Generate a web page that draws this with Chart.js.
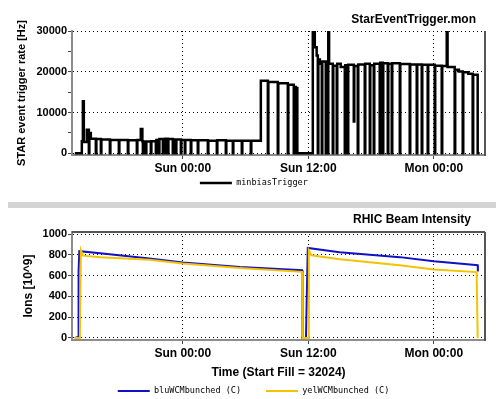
<!DOCTYPE html>
<html>
<head>
<meta charset="utf-8">
<script src="https://cdn.jsdelivr.net/npm/chart.js@4/dist/chart.umd.min.js"></script>
<style>
  html,body{margin:0;padding:0;background:#fff;width:496px;height:399px;overflow:hidden}
  #topChart,#botChart{position:absolute;left:0}
  #topChart{top:0}
  #botChart{top:209px}
  #sep{position:absolute;left:8px;top:202px;width:488px;height:6px;background:#d4d4d4}
</style>
</head>
<body>
<canvas id="topChart" width="496" height="200"></canvas>
<div id="sep"></div>
<canvas id="botChart" width="496" height="200"></canvas>
<script>
/* ---------- helpers ---------- */
const $ = q => document.querySelector(q);

/* ---------- axes (hours from Sun 00:00) ---------- */
const xTickHours  = [0, 12, 24];
const xTickLabels = ['Sun 00:00', 'Sun 12:00', 'Mon 00:00'];
const topYTicks   = [0, 10000, 20000, 30000];
const topYMinor   = [5000, 15000, 25000];
const botYTicks   = [0, 200, 400, 600, 800, 1000];
const botYMinor   = [100, 300, 500, 700, 900];

/* ---------- StarEventTrigger.mon : minbiasTrigger (rate changes) ---------- */
const trigHours = [
  -10.33, -9.66, -9.56, -9.47, -9.18, -8.99, -8.94, -8.80, -8.32, -8.27,
  -7.84, -7.79, -6.98, -6.93, -6.12, -6.07, -5.26, -5.21, -4.40, -4.35,
  -4.02, -3.87, -3.82, -3.77, -3.54, -3.49, -3.06, -3.01, -2.58, -2.53,
  -2.29, -2.24, -1.91, -1.86, -1.72, -1.67, -1.43, -1.38, -0.96, -0.91,
  -0.67, -0.62, -0.19, -0.14, 0.19, 0.24, 0.76, 0.81, 1.43, 1.48,
  2.39, 2.44, 3.25, 3.30, 4.11, 4.16, 4.78, 4.83, 5.64, 5.69,
  6.50, 6.55, 7.46, 8.13, 8.18, 9.08, 9.13, 10.04, 10.09, 10.61,
  10.66, 10.80, 10.85, 10.95, 12.43, 12.62, 12.80, 12.91, 12.96, 13.10,
  13.29, 13.34, 13.67, 13.72, 13.86, 13.91, 13.99, 14.34, 14.39, 14.72,
  14.77, 15.10, 15.49, 15.54, 15.77, 15.82, 16.35, 16.40, 16.73, 16.78,
  17.40, 17.45, 17.88, 17.93, 18.26, 18.31, 18.83, 18.88, 19.12, 19.17,
  19.60, 19.65, 19.98, 20.03, 20.75, 20.80, 21.70, 21.75, 22.37, 22.42,
  22.85, 22.90, 23.42, 23.47, 24.09, 24.14, 24.76, 24.81, 25.24, 25.32,
  26.00, 26.05, 26.40, 26.77, 26.82, 27.30, 27.72, 27.77, 28.20, 28.39
];
const trigRate = [
  0, 3000, 12800, 2800, 5800, 0, 5000, 3600, 0, 3500,
  0, 3400, 0, 3300, 0, 3300, 0, 3200, 0, 3300,
  6000, 3000, 0, 2900, 0, 2900, 0, 3000, 0, 3300,
  0, 3500, 0, 3500, 0, 3600, 0, 3500, 0, 3400,
  0, 3400, 0, 3300, 0, 3300, 0, 3200, 0, 3200,
  0, 3100, 0, 3200, 0, 3100, 0, 3100, 0, 3100,
  0, 3100, 17800, 0, 17500, 0, 17200, 0, 16800, 0,
  16300, 0, 16000, 0, 30000, 26000, 24000, 0, 23000, 22000,
  0, 22500, 0, 21800, 0, 30000, 22000, 0, 21500, 0,
  22000, 21200, 0, 21600, 0, 21700, 7800, 21400, 0, 21800,
  0, 22000, 0, 21600, 0, 22000, 0, 22200, 0, 22100,
  0, 22000, 0, 22100, 0, 21900, 0, 21800, 0, 21800,
  0, 21700, 0, 21700, 0, 21500, 0, 21400, 30000, 21200,
  0, 20500, 20100, 0, 19900, 19500, 0, 19300, 0, 0
];

/* ---------- RHIC Beam Intensity ---------- */
const bluHours = [-10.33, -10.00, -9.97, -9.90, -7.90, -3.20, 0, 5.45, 11.40, 11.45,
                  11.78, 11.82, 11.95, 15.00, 20.75, 24.00, 28.00, 28.20, 28.22];
const bluIons  = [0, 10, 640, 835, 815, 765, 727, 682, 652, 0,
                  0, 220, 866, 826, 778, 739, 703, 701, 640];
const yelHours = [-10.33, -9.85, -9.75, -9.55, -7.90, -3.20, 0, 5.45, 11.40, 11.45,
                  12.00, 12.05, 12.30, 15.00, 20.75, 24.00, 28.10, 28.20];
const yelIons  = [0, 0, 845, 792, 776, 752, 717, 674, 636, 0,
                  0, 845, 795, 758, 700, 660, 634, 0];

/* ---------- palette / fonts ---------- */
const palette = {ink:'#000', axis:'#8c8c8c', tick:'#444', blu:'#1010c4', yel:'#f4c300'};
const sans = '"Liberation Sans", Arial, sans-serif';
const mono = '"DejaVu Sans Mono", "Liberation Mono", monospace';
Chart.defaults.font.family = sans;
Chart.defaults.font.weight = 'bold';
Chart.defaults.color = palette.ink;

const pts = (xs, ys) => xs.map((x, i) => ({x, y: ys[i]}));

/* right-aligned chart name + frame edges */
const cornerTitle = {
  id:'cornerTitle',
  afterDraw(chart, args, o){
    const c = chart.ctx;
    c.save();
    c.font = `bold 12px ${sans}`; c.fillStyle = palette.ink;
    c.textAlign = 'right'; c.textBaseline = 'middle';
    c.fillText(o.text, o.x, o.y);
    c.restore();
  }
};
const frame = {
  id:'frame',
  afterDatasetsDraw(chart, args, o){
    const {ctx:c, chartArea:a} = chart;
    c.save(); c.strokeStyle = '#555'; c.lineWidth = 2;
    c.beginPath();
    if (o.top) { c.moveTo(a.left, a.top); c.lineTo(a.right, a.top); }
    c.moveTo(a.right, a.top); c.lineTo(a.right, a.bottom + 1);
    c.stroke(); c.restore();
  }
};

const xScale = extra => Object.assign({
  type:'linear', min:-10.6, max:28.9,
  afterBuildTicks: s => { s.ticks = xTickHours.map(v => ({value:v})); },
  ticks:{callback:v => xTickLabels[xTickHours.indexOf(v)], font:{size:12}, padding:2, maxRotation:0, autoSkip:false},
  grid:{color:palette.ink, tickLength:4, tickColor:palette.tick},
  border:{color:palette.axis, width:2, dash:[1,3]}
}, extra);

const yScale = (major, minor, extra) => Object.assign({
  afterBuildTicks: s => { s.ticks = [...major, ...minor].sort((a,b) => a-b).map(v => ({value:v})); },
  ticks:{callback:v => major.includes(v) ? String(v) : '', font:{size:11}, padding:1},
  grid:{color:c => major.includes(c.tick && c.tick.value) ? palette.ink : 'rgba(0,0,0,0)', tickLength:4, tickColor:palette.tick},
  border:{color:palette.axis, width:2, dash:[1,3]}
}, extra);

const legendOpt = pad => ({
  position:'bottom',
  labels:{boxWidth:32, boxHeight:0, padding:pad, color:palette.ink,
          font:{family:mono, size:8.5, weight:'normal'},
          sort:(a,b) => a.datasetIndex - b.datasetIndex}
});

/* ==========================================================
   1 · StarEventTrigger.mon
   ========================================================== */
new Chart($('#topChart'), {
  type:'line',
  data:{datasets:[{label:'minbiasTrigger', data:pts(trigHours, trigRate),
    borderColor:palette.ink, backgroundColor:palette.ink, borderWidth:2.5,
    stepped:true, pointRadius:0, fill:false}]},
  options:{
    responsive:false, animation:false,
    layout:{padding:{left:22.65, right:11, top:31, bottom:2.75}},
    scales:{
      x:xScale({afterFit: s => { s.height = 19.75; }}),
      y:yScale(topYTicks, topYMinor, {min:-400, max:30000,
        title:{display:true, text:'STAR event trigger rate [Hz]', font:{size:11}, padding:{top:-7.25, bottom:0}},
        afterFit: s => { s.width = 49.35; }})
    },
    plugins:{legend:legendOpt(4), tooltip:{enabled:false},
             cornerTitle:{text:'StarEventTrigger.mon', x:476, y:20},
             frame:{top:false}}
  },
  plugins:[cornerTitle, frame]
});

/* ==========================================================
   2 · RHIC Beam Intensity
   ========================================================== */
new Chart($('#botChart'), {
  type:'line',
  data:{datasets:[
    {label:'bluWCMbunched (C)', data:pts(bluHours, bluIons), borderColor:palette.blu,
     backgroundColor:palette.blu, borderWidth:2, pointRadius:0, tension:0, order:1},
    {label:'yelWCMbunched (C)', data:pts(yelHours, yelIons), borderColor:palette.yel,
     backgroundColor:palette.yel, borderWidth:2, pointRadius:0, tension:0, order:0}
  ]},
  options:{
    responsive:false, animation:false,
    layout:{padding:{left:22, right:11, top:23, bottom:3.75}},
    scales:{
      x:xScale({afterFit: s => { s.height = 21.75; },
        title:{display:true, text:'Time (Start Fill = 32024)', font:{size:12}, padding:{top:0, bottom:-18.45}}}),
      y:yScale(botYTicks, botYMinor, {min:-20, max:1020,
        title:{display:true, text:'Ions [10^9]', font:{size:12}, padding:{top:-0.2, bottom:0}},
        afterFit: s => { s.width = 50; }})
    },
    plugins:{legend:legendOpt(25), tooltip:{enabled:false},
             cornerTitle:{text:'RHIC Beam Intensity', x:471, y:11},
             frame:{top:true}}
  },
  plugins:[cornerTitle, frame]
});
</script>
</body>
</html>
